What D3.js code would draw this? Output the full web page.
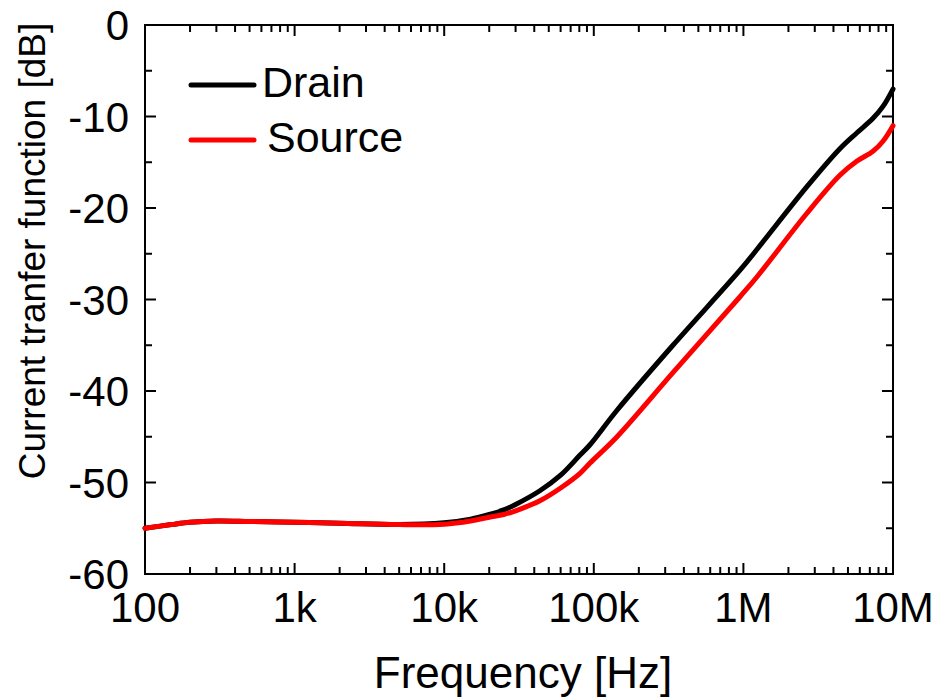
<!DOCTYPE html>
<html>
<head>
<meta charset="utf-8">
<script src="https://cdn.jsdelivr.net/npm/d3@7"></script>
<style>
  html, body { margin: 0; padding: 0; background: #fff; }
  svg { display: block; font-family: "Liberation Sans", Arial, sans-serif; }
</style>
</head>
<body>
<svg id="chart" width="940" height="698"></svg>
<script>
// ---- data ----
const freqs = [100, 150, 200, 300, 500, 1000, 2000, 5000, 10000, 15000, 20000, 25000, 30000, 43600, 60000, 80900, 94000, 143000, 338000, 949000, 1250000, 2650000, 4430000, 5720000, 7350000, 8570000, 10000000];
const drain = [-55.0, -54.6, -54.35, -54.2, -54.25, -54.35, -54.45, -54.6, -54.4, -54.0, -53.5, -53.0, -52.4, -50.9, -49.2, -47.0, -45.9, -42.1, -35.0, -26.8, -24.4, -17.7, -13.5, -11.8, -10.2, -8.9, -7.0];
const source = [-55.0, -54.6, -54.35, -54.2, -54.25, -54.35, -54.45, -54.6, -54.55, -54.2, -53.8, -53.5, -53.1, -52.0, -50.6, -49.0, -47.9, -45.0, -38.0, -29.7, -27.4, -20.6, -16.4, -14.9, -13.8, -12.7, -11.0];
const seriesNames = ["Drain", "Source"];
const seriesColors = ["#000000", "#ff0000"];
const xTickValues = [100, 1e3, 1e4, 1e5, 1e6, 1e7];
const xTickLabels = ["100", "1k", "10k", "100k", "1M", "10M"];
const yTickValues = [0, -10, -20, -30, -40, -50, -60];
const yTickLabels = ["0", "-10", "-20", "-30", "-40", "-50", "-60"];
const xTitle = "Frequency [Hz]";
const yTitle = "Current tranfer function [dB]";

// ---- layout ----
const L = 145, R = 893, T = 25, B = 574;
const svg = d3.select("#chart");
const x = d3.scaleLog().domain([100, 1e7]).range([L, R]);
const y = d3.scaleLinear().domain([-60, 0]).range([B, T]);

// minor ticks
const xMinor = [];
for (let d = 100; d < 1e7; d *= 10) for (let k = 2; k <= 9; k++) xMinor.push(d * k);
const yMinor = d3.range(-55, 0, 10);

const tickColor = "#000";
const majorLen = 11, minorLen = 7;

const gx = svg.append("g");
function vTicks(data, y0, len) {
  gx.append("g").selectAll("line").data(data).join("line")
    .attr("x1", d => x(d)).attr("x2", d => x(d)).attr("y1", y0).attr("y2", y0 + len)
    .attr("stroke", tickColor).attr("stroke-width", 2);
}
vTicks(xTickValues, B, -majorLen);
vTicks(xMinor, B, -minorLen);
vTicks(xTickValues, T, majorLen);
vTicks(xMinor, T, minorLen);

const gy = svg.append("g");
function hTicks(data, x0, len) {
  gy.append("g").selectAll("line").data(data).join("line")
    .attr("x1", x0).attr("x2", x0 + len).attr("y1", d => y(d)).attr("y2", d => y(d))
    .attr("stroke", tickColor).attr("stroke-width", 2);
}
hTicks(yTickValues, L, majorLen);
hTicks(yMinor, L, minorLen);
hTicks(yTickValues, R, -majorLen);
hTicks(yMinor, R, -minorLen);

// frame
svg.append("rect").attr("x", L).attr("y", T).attr("width", R - L).attr("height", B - T)
  .attr("fill", "none").attr("stroke", "#000").attr("stroke-width", 2);

// tick labels
svg.append("g").selectAll("text").data(xTickValues).join("text")
  .attr("x", d => x(d)).attr("y", 622)
  .attr("text-anchor", "middle").attr("font-size", 42).attr("fill", "#000")
  .text((d, i) => xTickLabels[i]);
svg.append("g").selectAll("text").data(yTickValues).join("text")
  .attr("x", 129).attr("y", d => y(d) + 15)
  .attr("text-anchor", "end").attr("font-size", 42).attr("fill", "#000")
  .text((d, i) => yTickLabels[i]);

// titles
svg.append("text").attr("x", 523).attr("y", 688).attr("text-anchor", "middle")
  .attr("font-size", 44).attr("fill", "#000").text(xTitle);
svg.append("text").attr("transform", "translate(45,251) rotate(-90)").attr("text-anchor", "middle")
  .attr("font-size", 37).attr("fill", "#000").text(yTitle);

// lines
const line = d3.line().x(d => x(d[0])).y(d => y(d[1])).curve(d3.curveCatmullRom.alpha(0.5));
const seriesData = [drain, source];
[0, 1].forEach(i => {
  svg.append("path")
    .datum(freqs.map((f, j) => [f, seriesData[i][j]]))
    .attr("d", line).attr("fill", "none")
    .attr("stroke", seriesColors[i]).attr("stroke-width", 5)
    .attr("stroke-linejoin", "round").attr("stroke-linecap", "round");
});

// legend
const legY = [85, 140];
seriesNames.forEach((n, i) => {
  svg.append("line").attr("x1", 191).attr("x2", 254).attr("y1", legY[i]).attr("y2", legY[i])
    .attr("stroke", seriesColors[i]).attr("stroke-width", 5).attr("stroke-linecap", "round");
  svg.append("text").attr("x", i === 0 ? 262 : 267).attr("y", legY[i] + 12)
    .attr("font-size", 43).attr("fill", "#000").text(n);
});
</script>
</body>
</html>
